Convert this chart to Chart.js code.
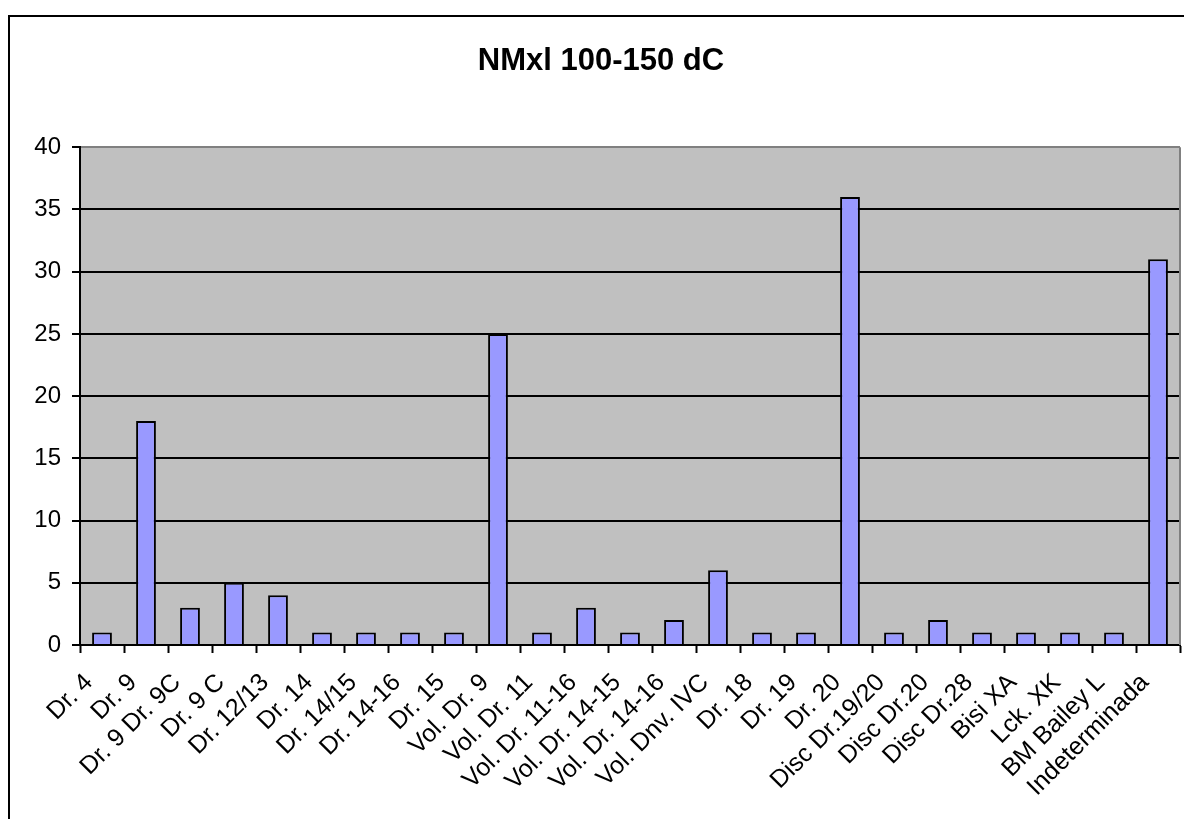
<!DOCTYPE html>
<html>
<head>
<meta charset="utf-8">
<script src="https://cdn.jsdelivr.net/npm/chart.js@4/dist/chart.umd.min.js"></script>
<style>
  html, body { margin: 0; padding: 0; background: #fff; }
  #wrap { position: relative; width: 1184px; height: 819px; }
</style>
</head>
<body>
<div id="wrap"><canvas id="c" width="1184" height="819"></canvas></div>
<script>
const chartTitle = 'NMxl 100-150 dC';
const categories = ['Dr. 4', 'Dr. 9', 'Dr. 9 Dr. 9C', 'Dr. 9 C', 'Dr. 12/13', 'Dr. 14', 'Dr. 14/15', 'Dr. 14-16', 'Dr. 15', 'Vol. Dr. 9', 'Vol. Dr. 11', 'Vol. Dr. 11-16', 'Vol. Dr. 14-15', 'Vol. Dr. 14-16', 'Vol. Dnv. IVC', 'Dr. 18', 'Dr. 19', 'Dr. 20', 'Disc Dr.19/20', 'Disc Dr.20', 'Disc Dr.28', 'Bisi XA', 'Lck. XK', 'BM Bailey L', 'Indeterminada'];
const values = [1, 18, 3, 5, 4, 1, 1, 1, 1, 25, 1, 3, 1, 2, 6, 1, 1, 36, 1, 2, 1, 1, 1, 1, 31];
const yTicks = [0, 5, 10, 15, 20, 25, 30, 35, 40];

const FONT = 'Arial, "Liberation Sans", sans-serif';

const framePlugin = {
  id: 'frame',
  beforeDraw(chart) {
    const ctx = chart.ctx;
    const a = chart.chartArea;
    ctx.save();
    ctx.fillStyle = '#ffffff';
    ctx.fillRect(0, 0, chart.width, chart.height);
    ctx.strokeStyle = '#000000';
    ctx.lineWidth = 2;
    ctx.strokeRect(9, 16, chart.width + 20, chart.height + 20);
    ctx.fillStyle = '#C0C0C0';
    ctx.fillRect(a.left, a.top, a.right - a.left, a.bottom - a.top);
    ctx.restore();
  },
  afterDatasetsDraw(chart) {
    const ctx = chart.ctx;
    const a = chart.chartArea;
    ctx.save();
    ctx.strokeStyle = '#808080';
    ctx.lineWidth = 2;
    ctx.beginPath();
    ctx.moveTo(a.right, a.top);
    ctx.lineTo(a.right, a.bottom);
    ctx.stroke();
    ctx.restore();
  }
};

new Chart(document.getElementById('c'), {
  type: 'bar',
  data: {
    labels: categories,
    datasets: [{
      data: values,
      backgroundColor: '#9999FF',
      borderColor: '#000000',
      borderWidth: 2,
      barPercentage: 0.45,
      categoryPercentage: 1
    }]
  },
  plugins: [framePlugin],
  options: {
    responsive: false,
    animation: false,
    devicePixelRatio: 1,
    layout: { padding: { left: 22, right: 4, top: 15, bottom: 0 } },
    plugins: {
      legend: { display: false },
      tooltip: { enabled: false },
      title: {
        display: true,
        text: chartTitle,
        color: '#000',
        font: { family: FONT, size: 31, weight: 'bold' },
        padding: { top: 28, bottom: 67 }
      }
    },
    scales: {
      x: {
        offset: true,
        grid: {
          offset: true,
          drawOnChartArea: false,
          drawTicks: true,
          tickLength: 8,
          tickColor: '#000',
          tickWidth: 2
        },
        border: { display: true, color: '#000', width: 2 },
        ticks: {
          autoSkip: false,
          minRotation: 45,
          maxRotation: 45,
          color: '#000',
          font: { family: FONT, size: 25 },
          padding: 15,
          labelOffset: -13
        },
        afterFit(scale) {
          scale.height = 174;
          scale.paddingLeft = 0;
          scale.paddingRight = 0;
        }
      },
      y: {
        min: 0,
        max: 40,
        afterBuildTicks(scale) { scale.ticks = yTicks.map(v => ({ value: v })); },
        grid: {
          color: (c) => (c.tick && c.tick.value === 40 ? '#808080' : '#000000'),
          lineWidth: 2,
          drawTicks: true,
          tickLength: 8,
          tickColor: '#000'
        },
        border: { display: true, color: '#000', width: 2 },
        ticks: {
          color: '#000',
          font: { family: FONT, size: 24 },
          padding: 11
        },
        afterFit(scale) { scale.width = 58; }
      }
    }
  }
});
</script>
</body>
</html>
